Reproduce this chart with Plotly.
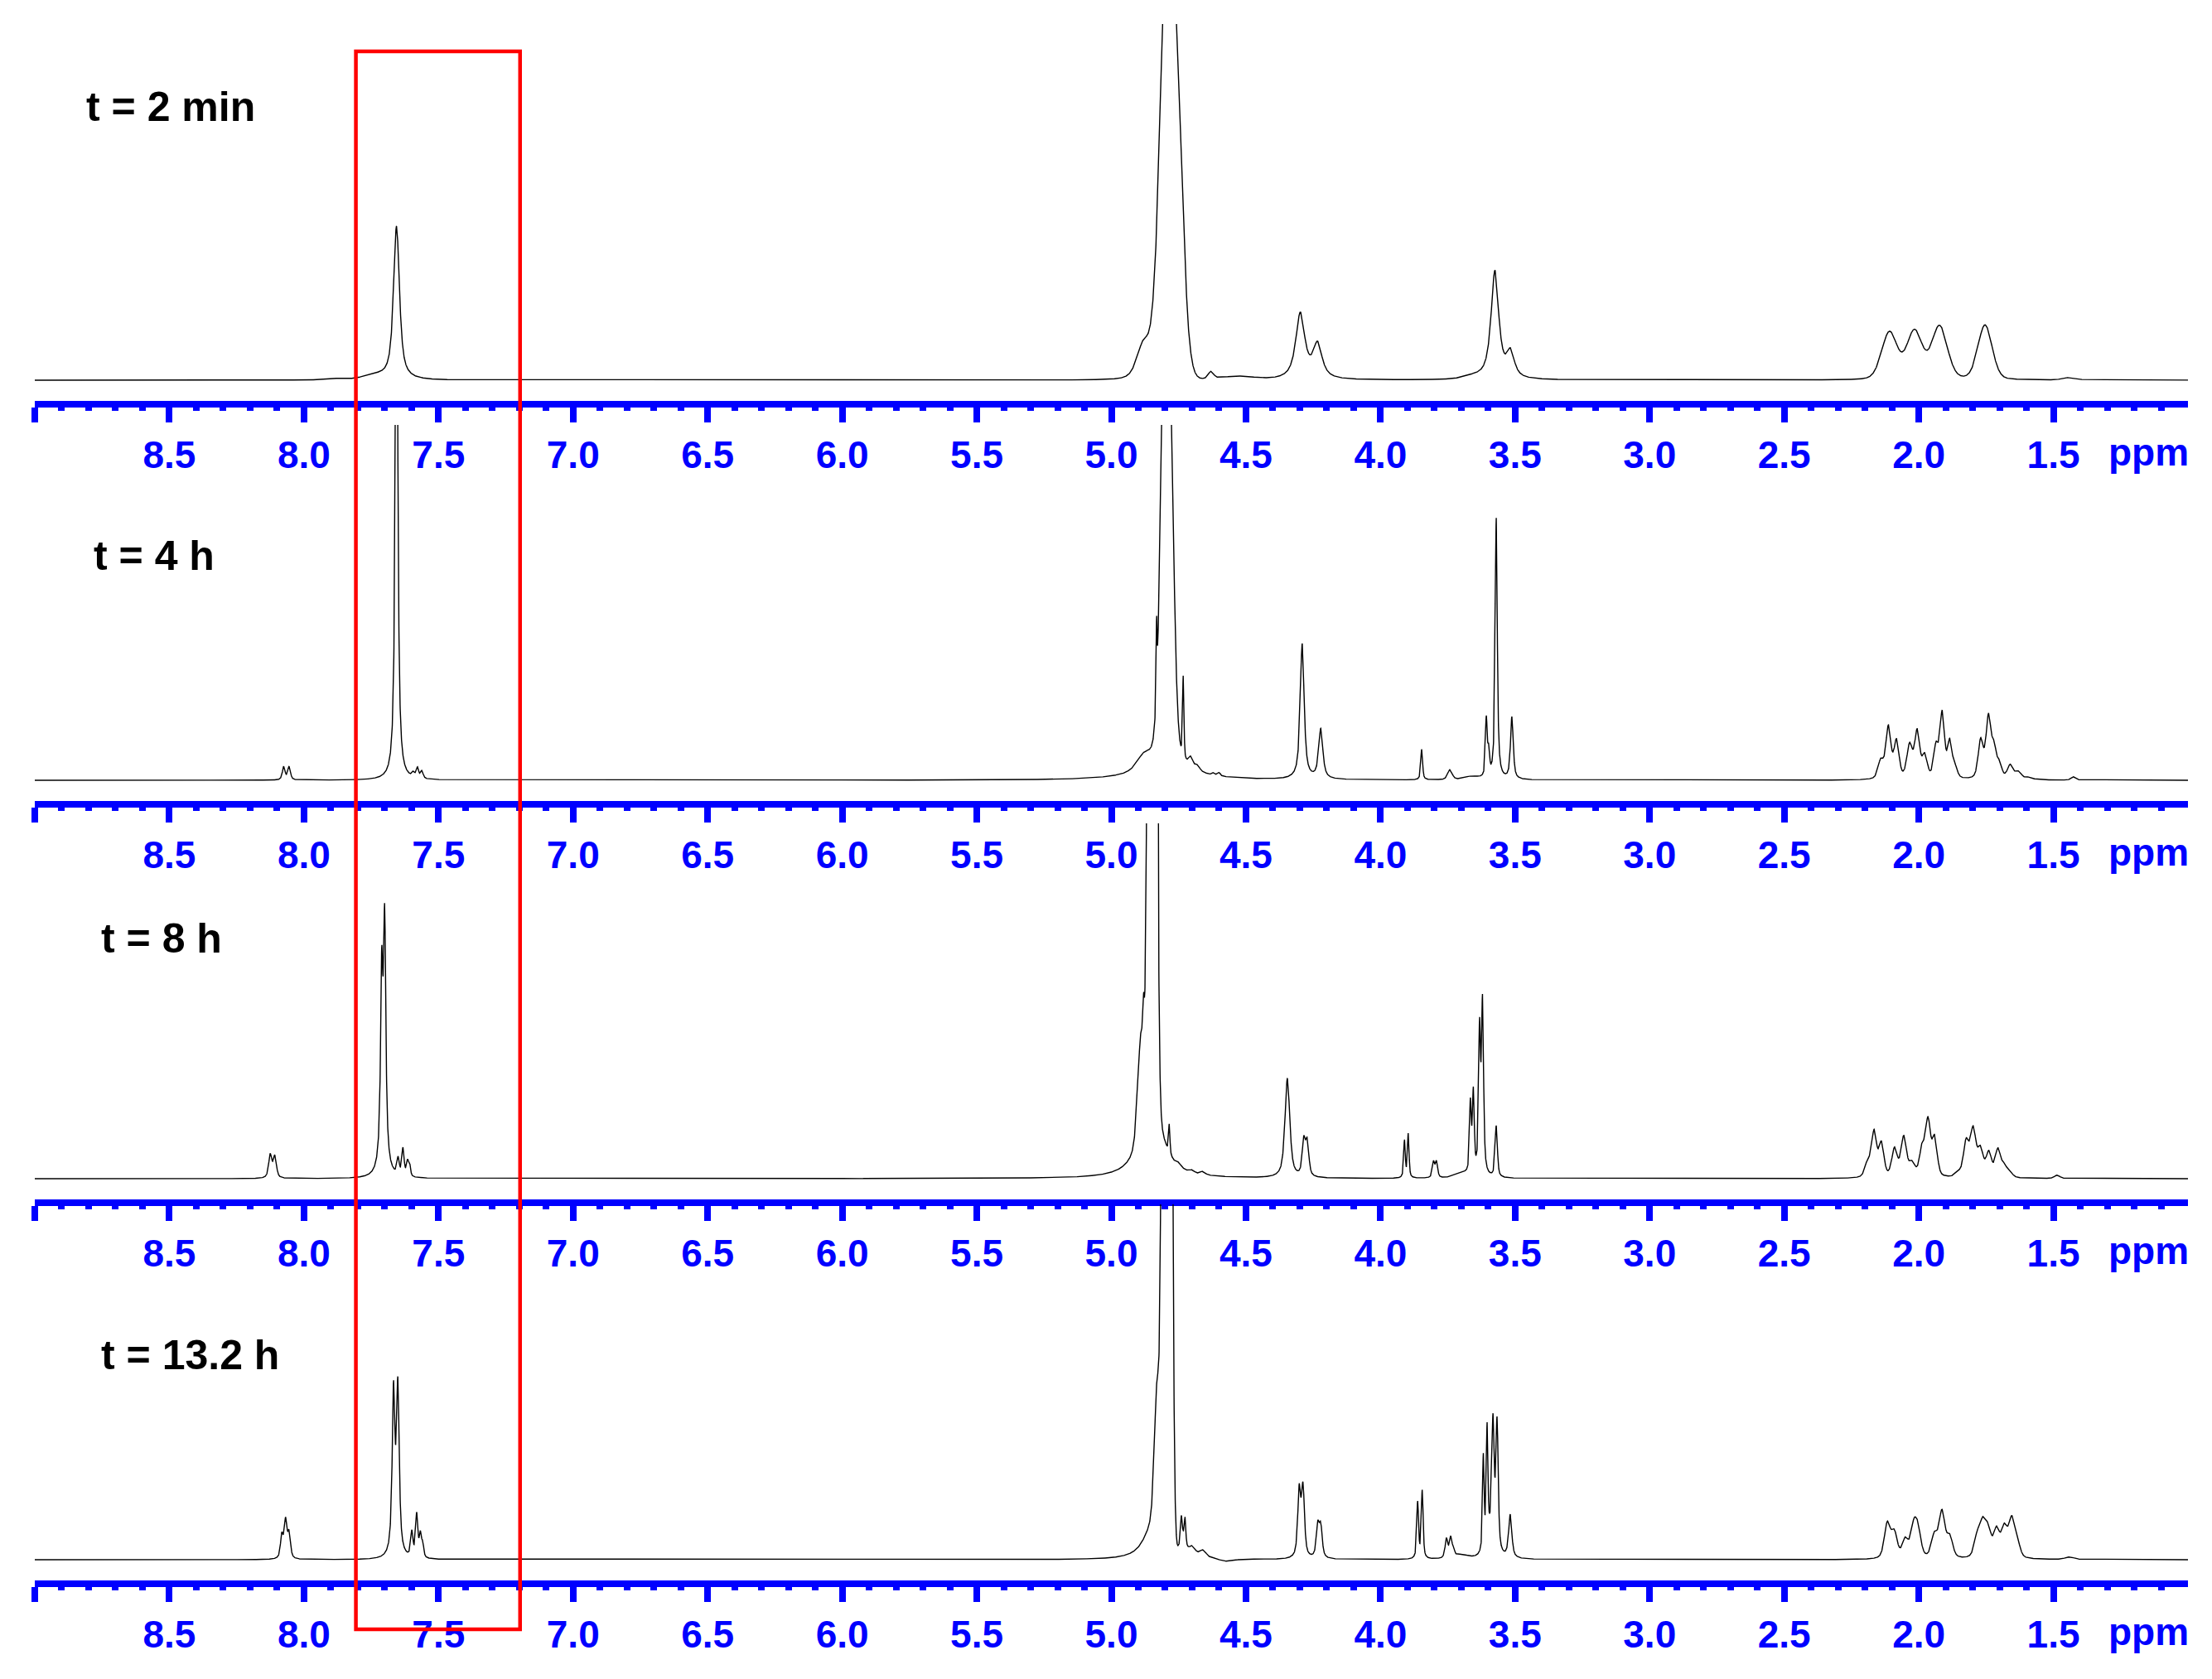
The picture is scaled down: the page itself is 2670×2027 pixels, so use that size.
import numpy as np
import plotly.graph_objects as go

W, H = 2670, 2027

# ---------------- data ----------------
time_labels = ["t = 2 min", "t = 4 h", "t = 8 h", "t = 13.2 h"]

tick_vals = [9.0, 8.5, 8.0, 7.5, 7.0, 6.5, 6.0, 5.5, 5.0, 4.5, 4.0, 3.5, 3.0, 2.5, 2.0, 1.5]
tick_text = ["", "8.5", "8.0", "7.5", "7.0", "6.5", "6.0", "5.5", "5.0", "4.5", "4.0",
             "3.5", "3.0", "2.5", "2.0", "1.5"]
minor_vals = [8.9, 8.8, 8.7, 8.6, 8.4, 8.3, 8.2, 8.1, 7.9, 7.8, 7.7, 7.6, 7.4, 7.3, 7.2, 7.1,
              6.9, 6.8, 6.7, 6.6, 6.4, 6.3, 6.2, 6.1, 5.9, 5.8, 5.7, 5.6, 5.4, 5.3, 5.2, 5.1,
              4.9, 4.8, 4.7, 4.6, 4.4, 4.3, 4.2, 4.1, 3.9, 3.8, 3.7, 3.6, 3.4, 3.3, 3.2, 3.1,
              2.9, 2.8, 2.7, 2.6, 2.4, 2.3, 2.2, 2.1, 1.9, 1.8, 1.7, 1.6, 1.4, 1.3, 1.2, 1.1]
ppm_range = [9.0, 1.0]
box_ppm = [7.807, 7.197]

# peaks: (shift ppm, height, half width ppm, lorentzian fraction)
peaks_2min = [
    (7.656, 185, 0.013, 0.8), (7.74, 5, 0.05, 0.5), (7.87, 1.5, 0.03, 0.5),
    (4.7815, 632, 0.0369, 0.0), (4.88, 45, 0.03, 0.5), (4.728, 25, 0.004, 0.5),
    (4.63, 9, 0.012, 0.5), (4.53, 4, 0.07, 0.0),
    (4.298, 79, 0.02, 0.85), (4.234, 41, 0.02, 0.85),
    (3.66, 3, 0.04, 0.5), (3.575, 130, 0.017, 0.85), (3.517, 30, 0.017, 0.85),
    (2.109, 57, 0.034, 0.2), (2.016, 58, 0.034, 0.2), (1.923, 64, 0.034, 0.2),
    (1.754, 66, 0.031, 0.2), (1.44, 3, 0.03, 0.0),
]
peaks_4h = [
    (8.075, 16, 0.006, 0.6), (8.055, 16, 0.006, 0.6),
    (7.656, 800, 0.005, 0.9),
    (7.593, 6, 0.006, 0.6), (7.578, 12, 0.005, 0.6), (7.562, 9, 0.006, 0.6),
    (4.794, 694, 0.0209, 0.0), (4.80, 45, 0.07, 1.0), (4.88, 14, 0.03, 0.5),
    (4.832, 87, 0.002, 0.5), (4.733, 100, 0.003, 0.5),
    (4.705, 12, 0.01, 0.5), (4.68, 6, 0.01, 0.5), (4.62, 3, 0.006, 0.5), (4.60, 4, 0.006, 0.5),
    (4.291, 163, 0.0085, 0.8), (4.222, 60, 0.009, 0.8),
    (3.847, 37, 0.004, 0.6), (3.742, 12, 0.01, 0.5), (3.66, 4, 0.03, 0.5),
    (3.607, 70, 0.004, 0.6), (3.598, 30, 0.004, 0.6),
    (3.570, 315, 0.0045, 0.8), (3.512, 75, 0.006, 0.7),
    (2.141, 22, 0.012, 0.4), (2.113, 62, 0.011, 0.4), (2.083, 45, 0.011, 0.4),
    (2.034, 40, 0.012, 0.4), (2.006, 56, 0.011, 0.4), (1.978, 27, 0.011, 0.4),
    (1.936, 38, 0.010, 0.4), (1.913, 78, 0.010, 0.4), (1.885, 44, 0.010, 0.4),
    (1.865, 12, 0.010, 0.4),
    (1.770, 46, 0.011, 0.4), (1.741, 74, 0.011, 0.4), (1.720, 34, 0.010, 0.4),
    (1.700, 17, 0.010, 0.4), (1.660, 17, 0.013, 0.4), (1.629, 9, 0.013, 0.4),
    (1.59, 3, 0.015, 0.5), (1.425, 4, 0.01, 0.5),
]
peaks_8h = [
    (8.125, 28, 0.007, 0.6), (8.108, 26, 0.007, 0.6),
    (7.711, 215, 0.005, 0.9), (7.700, 275, 0.005, 0.9), (7.705, 25, 0.015, 1.0),
    (7.65, 20, 0.005, 0.6), (7.632, 33, 0.005, 0.6), (7.615, 18, 0.005, 0.6),
    (7.607, 12, 0.004, 0.6),
    (4.848, 3000, 0.012, 0.0), (4.85, 110, 0.04, 1.0), (4.89, 120, 0.014, 0.3),
    (4.88, 50, 0.003, 0.5), (4.785, 35, 0.003, 0.5),
    (4.75, 4, 0.01, 0.5), (4.70, 3, 0.01, 0.5), (4.66, 4, 0.01, 0.5),
    (4.346, 120, 0.0105, 0.7), (4.285, 42, 0.007, 0.6), (4.272, 40, 0.007, 0.6),
    (3.911, 45, 0.0035, 0.6), (3.897, 53, 0.0035, 0.6),
    (3.803, 19, 0.005, 0.6), (3.792, 19, 0.005, 0.6), (3.70, 6, 0.03, 0.5),
    (3.666, 85, 0.004, 0.6), (3.655, 97, 0.004, 0.6),
    (3.632, 170, 0.0042, 0.7), (3.621, 205, 0.0045, 0.7), (3.570, 62, 0.005, 0.6),
    (2.19, 18, 0.012, 0.4), (2.166, 54, 0.011, 0.4), (2.139, 40, 0.011, 0.4),
    (2.09, 34, 0.012, 0.4), (2.056, 48, 0.012, 0.4), (2.025, 16, 0.013, 0.4),
    (1.988, 33, 0.011, 0.4), (1.966, 66, 0.011, 0.4), (1.941, 46, 0.011, 0.4),
    (1.854, 5, 0.012, 0.4), (1.824, 42, 0.012, 0.4), (1.798, 56, 0.012, 0.4),
    (1.771, 32, 0.012, 0.4), (1.74, 29, 0.012, 0.4), (1.706, 33, 0.012, 0.4),
    (1.682, 13, 0.012, 0.4), (1.66, 5, 0.012, 0.4), (1.486, 4, 0.012, 0.5),
]
peaks_13h = [
    (8.082, 28, 0.006, 0.6), (8.068, 45, 0.006, 0.6), (8.055, 30, 0.006, 0.6),
    (7.667, 195, 0.006, 0.85), (7.651, 200, 0.006, 0.85),
    (7.599, 30, 0.005, 0.6), (7.581, 52, 0.005, 0.6), (7.567, 28, 0.005, 0.6),
    (7.558, 15, 0.004, 0.6),
    (4.7935, 4000, 0.0125, 0.0), (4.83, 180, 0.012, 0.3), (4.85, 35, 0.04, 1.0),
    (4.735, 25, 0.012, 0.5), (4.74, 25, 0.003, 0.5), (4.726, 28, 0.003, 0.5),
    (4.70, 12, 0.015, 0.5), (4.66, 9, 0.015, 0.5), (4.57, -3, 0.03, 0.0),
    (4.302, 80, 0.0065, 0.7), (4.288, 82, 0.0065, 0.7),
    (4.233, 38, 0.0065, 0.7), (4.222, 36, 0.0065, 0.7),
    (3.862, 68, 0.004, 0.6), (3.845, 82, 0.004, 0.6),
    (3.755, 23, 0.006, 0.6), (3.739, 24, 0.006, 0.6), (3.728, 8, 0.004, 0.6),
    (3.70, 5, 0.03, 0.5), (3.59, 30, 0.02, 0.5),
    (3.618, 112, 0.0035, 0.6), (3.604, 135, 0.0035, 0.6),
    (3.582, 138, 0.005, 0.6), (3.567, 150, 0.005, 0.6), (3.518, 52, 0.007, 0.7),
    (2.117, 42, 0.013, 0.4), (2.091, 30, 0.013, 0.4), (2.05, 22, 0.013, 0.4),
    (2.019, 35, 0.013, 0.4), (2.003, 30, 0.013, 0.4), (1.942, 27, 0.013, 0.4),
    (1.914, 55, 0.013, 0.4), (1.885, 25, 0.013, 0.4),
    (1.783, 25, 0.013, 0.4), (1.762, 38, 0.013, 0.4), (1.742, 30, 0.013, 0.4),
    (1.711, 33, 0.013, 0.4), (1.682, 35, 0.013, 0.4), (1.655, 44, 0.013, 0.4),
    (1.635, 18, 0.013, 0.4), (1.44, 3, 0.02, 0.5),
]
spectra = [peaks_2min, peaks_4h, peaks_8h, peaks_13h]

# ---------------- geometry (pixels) ----------------
AX_TOP = [484, 967, 1448, 1908]      # top edge of each blue axis line
PANEL_TOP = [29, 513, 994, 1454]     # clipping top of each spectrum
BASE_OFF = 25                        # baseline height above axis
LABEL_POS = [(102, 129.5), (111, 670.5), (120, 1132.5), (120, 1635.5)]
X_DOM = [42 / W, 2641 / W]

xgrid = np.arange(1.0, 9.0 + 0.0002, 0.0004)


def spectrum(peaks):
    y = np.zeros_like(xgrid)
    for c, a, w, eta in peaks:
        r2 = ((xgrid - c) / w) ** 2
        y += a * (eta / (1.0 + r2) + (1.0 - eta) * np.exp(-np.log(2) * r2))
    return np.round(y, 2)


fig = go.Figure()
annotations = []
for i, peaks in enumerate(spectra):
    n = "" if i == 0 else str(i + 1)
    fig.add_trace(go.Scatter(
        x=xgrid, y=spectrum(peaks), mode="lines",
        line=dict(color="black", width=1.4),
        xaxis="x" + n, yaxis="y" + n, hoverinfo="skip", showlegend=False))

    fig.update_layout(**{
        "xaxis" + n: dict(
            domain=X_DOM, range=ppm_range, anchor="y" + n,
            showline=True, linecolor="#0000ff", linewidth=8,
            ticks="outside", ticklen=18, tickwidth=8, tickcolor="#0000ff",
            tickmode="array", tickvals=tick_vals, ticktext=tick_text,
            tickfont=dict(family="Liberation Sans", size=46, color="#0000ff", weight="bold"),
            showgrid=False, zeroline=False,
            minor=dict(tickmode="array", tickvals=minor_vals, ticks="outside",
                       ticklen=4, tickwidth=8, tickcolor="#0000ff", showgrid=False),
        ),
        "yaxis" + n: dict(
            domain=[1 - AX_TOP[i] / H, 1 - PANEL_TOP[i] / H],
            range=[-BASE_OFF, AX_TOP[i] - PANEL_TOP[i] - BASE_OFF],
            visible=False, showgrid=False, zeroline=False,
        ),
    })
    lx, ly = LABEL_POS[i]
    annotations.append(dict(
        text=time_labels[i], xref="paper", yref="paper", x=lx / W, y=1 - ly / H,
        xanchor="left", yanchor="middle", showarrow=False,
        font=dict(family="Liberation Sans", size=50, color="black", weight="bold")))
    annotations.append(dict(
        text="ppm", xref="paper", yref="paper", x=2593 / W, y=1 - (AX_TOP[i] + 61.5) / H,
        xanchor="center", yanchor="middle", showarrow=False,
        font=dict(family="Liberation Sans", size=46, color="#0000ff", weight="bold")))

fig.update_layout(
    width=W, height=H, margin=dict(l=0, r=0, t=0, b=0),
    paper_bgcolor="white", plot_bgcolor="rgba(0,0,0,0)",
    annotations=annotations,
    shapes=[dict(type="rect", xref="x", yref="paper",
                 x0=box_ppm[0], x1=box_ppm[1], y0=1 - 1967 / H, y1=1 - 62 / H,
                 line=dict(color="#ff0000", width=4.5), fillcolor="rgba(0,0,0,0)",
                 layer="above")],
)

fig.write_html("out.html", config={"displayModeBar": False, "staticPlot": True},
               post_script="document.body.style.margin='0';document.body.style.overflow='hidden';")
